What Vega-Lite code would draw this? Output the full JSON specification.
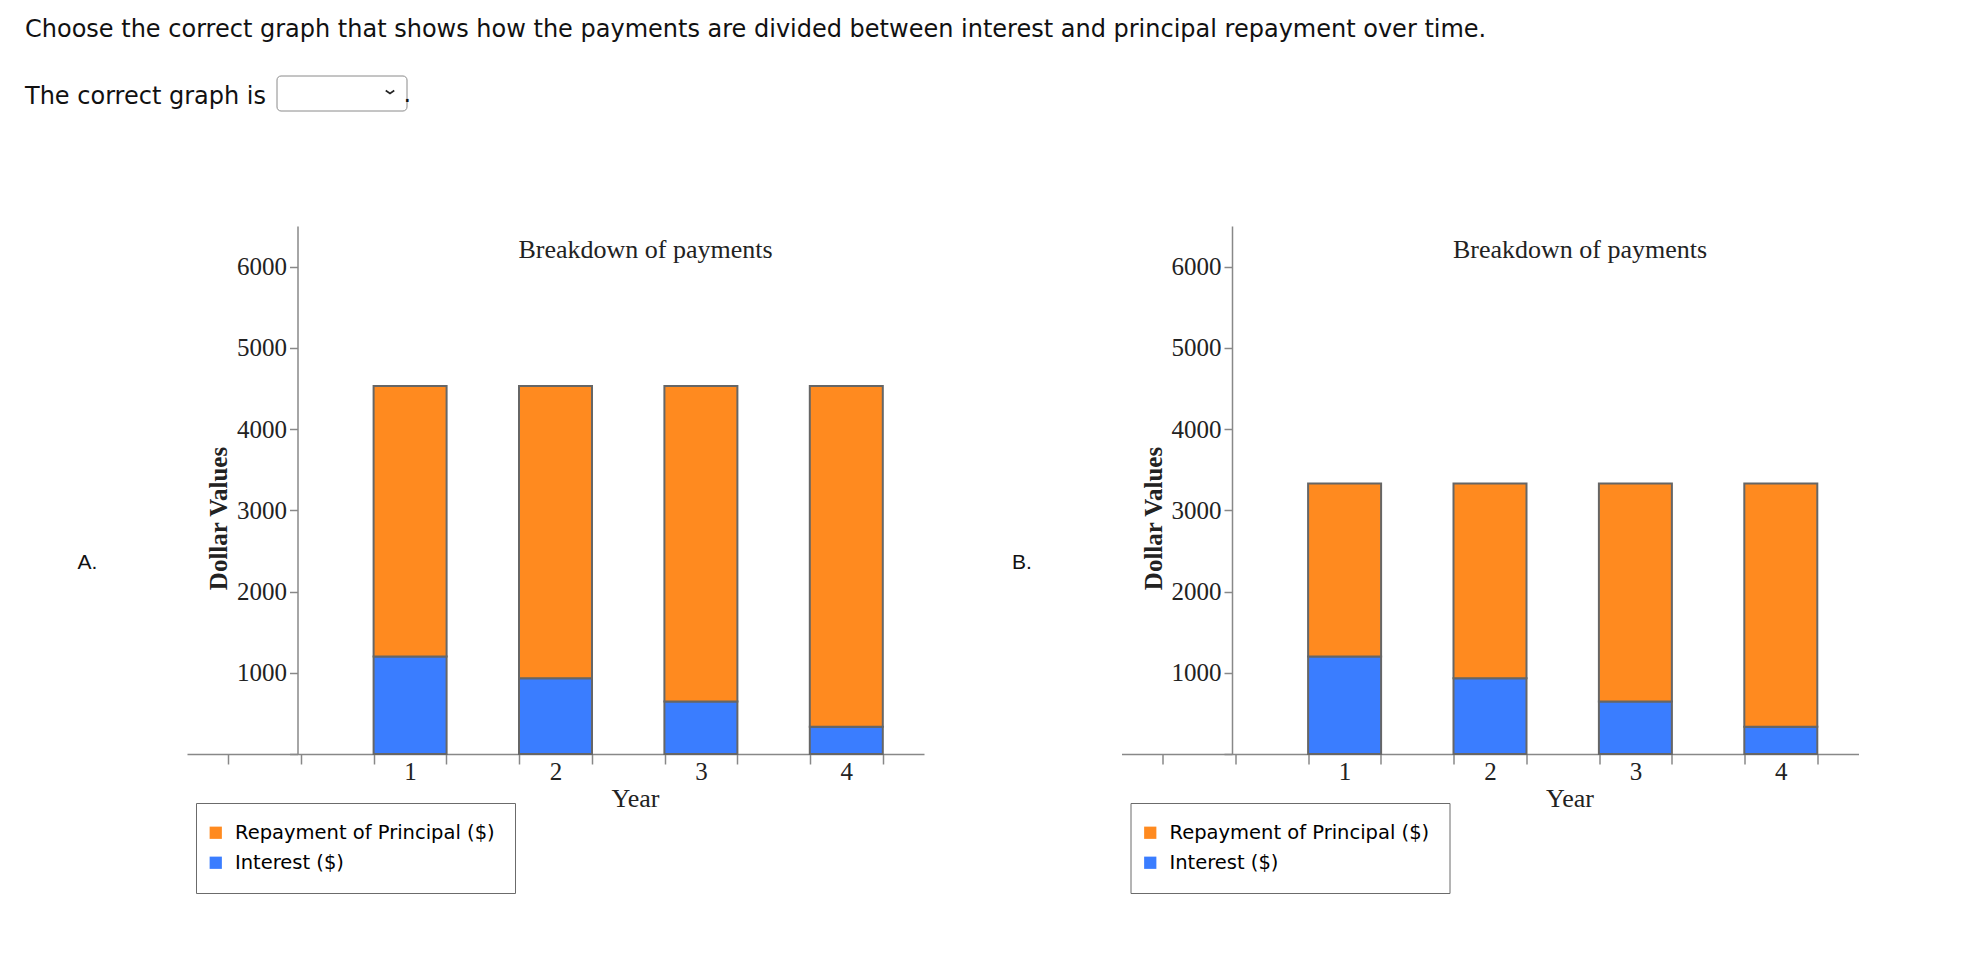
{
  "$schema": "https://vega.github.io/schema/vega-lite/v6.json",
  "background": "white",
  "padding": {"left": 25, "top": 18, "right": 5, "bottom": 5},
  "title": {
    "text": "Choose the correct graph that shows how the payments are divided between interest and principal repayment over time.",
    "subtitle": "The correct graph is",
    "anchor": "start",
    "frame": "group",
    "dx": -162,
    "font": "DejaVu Sans",
    "fontSize": 24,
    "fontWeight": "normal",
    "color": "#111",
    "subtitleFont": "DejaVu Sans",
    "subtitleFontSize": 24,
    "subtitleColor": "#111",
    "subtitlePadding": 43,
    "offset": -34
  },
  "datasets": {
    "a": [
      {"year": 1, "component": "Interest ($)", "amount": 1200},
      {"year": 1, "component": "Repayment of Principal ($)", "amount": 3329},
      {"year": 2, "component": "Interest ($)", "amount": 934},
      {"year": 2, "component": "Repayment of Principal ($)", "amount": 3595},
      {"year": 3, "component": "Interest ($)", "amount": 646},
      {"year": 3, "component": "Repayment of Principal ($)", "amount": 3883},
      {"year": 4, "component": "Interest ($)", "amount": 335},
      {"year": 4, "component": "Repayment of Principal ($)", "amount": 4194}
    ],
    "b": [
      {"year": 1, "component": "Interest ($)", "amount": 1200},
      {"year": 1, "component": "Repayment of Principal ($)", "amount": 2129},
      {"year": 2, "component": "Interest ($)", "amount": 934},
      {"year": 2, "component": "Repayment of Principal ($)", "amount": 2395},
      {"year": 3, "component": "Interest ($)", "amount": 646},
      {"year": 3, "component": "Repayment of Principal ($)", "amount": 2683},
      {"year": 4, "component": "Interest ($)", "amount": 335},
      {"year": 4, "component": "Repayment of Principal ($)", "amount": 2994}
    ]
  },
  "bounds": "flush",
  "spacing": 197.5,
  "hconcat": [
    {
      "data": {"name": "a"},
      "width": 737,
      "height": 528,
      "title": {"text": "Breakdown of payments", "anchor": "middle", "dx": 90, "offset": -37, "font": "Liberation Serif", "fontSize": 26, "fontWeight": "normal", "color": "#222"},
      "layer": [
        {
          "mark": {"type": "bar", "size": 73, "stroke": "#666", "strokeWidth": 2},
          "encoding": {
            "x": {"field": "year", "type": "quantitative", "scale": {"domain": [-0.5, 4.5], "nice": false, "zero": false},
              "axis": {"values": [-0.25, 0.25, 0.75, 1, 1.25, 1.75, 2, 2.25, 2.75, 3, 3.25, 3.75, 4, 4.25],
                "labelExpr": "datum.value % 1 === 0 ? '' + datum.value : ''",
                "tickColor": {"condition": {"test": "datum.value % 1 === 0", "value": "transparent"}, "value": "#888"},
                "tickSize": 10, "tickWidth": 1.5, "domainColor": "#888", "domainWidth": 1.5,
                "labelFont": "Liberation Serif", "labelFontSize": 25, "labelColor": "#222", "labelPadding": -4.5,
                "labelFlush": false, "labelOverlap": false, "grid": false,
                "title": "Year", "titleFont": "Liberation Serif", "titleFontSize": 26, "titleFontWeight": "normal", "titleColor": "#222",
                "titleX": 448, "titleY": 44, "titleAlign": "center", "titleBaseline": "middle"}},
            "y": {"field": "amount", "type": "quantitative", "stack": "zero", "scale": {"domain": [0, 6500], "nice": false},
              "axis": {"values": [0, 1000, 2000, 3000, 4000, 5000, 6000], "format": "d",
                "labelExpr": "datum.value === 0 ? '' : datum.label",
                "offset": -110.5, "tickSize": 8, "tickWidth": 1.5, "tickColor": "#888", "domainColor": "#888", "domainWidth": 1.5,
                "labelFont": "Liberation Serif", "labelFontSize": 25, "labelColor": "#222", "labelPadding": 3, "grid": false,
                "title": "Dollar Values", "titleFont": "Liberation Serif", "titleFontSize": 25, "titleFontWeight": "bold", "titleColor": "#222",
                "titleX": -79, "titleY": 292, "titleAlign": "center", "titleBaseline": "middle", "titleAngle": 270}},
            "color": {"field": "component", "type": "nominal",
              "scale": {"domain": ["Repayment of Principal ($)", "Interest ($)"], "range": ["#ff8a1f", "#3a7dff"]},
              "legend": {"orient": "none", "legendX": 9, "legendY": 577, "title": null,
                "symbolType": "square", "symbolSize": 150, "symbolStrokeWidth": 0, "symbolOffset": -10,
                "labelFont": "DejaVu Sans", "labelFontSize": 19.5, "labelOffset": 9.5, "rowPadding": 9, "labelLimit": 600,
                "padding": 20, "strokeColor": "#6b6b6b",
                "encode": {"legend": {"update": {"strokeWidth": {"value": 2}}},
                  "labels": {"update": {"fill": {"signal": "datum.value === 'Interest ($)' ? '#3a7dff' : '#ff8a1f'"}}}}}},
            "order": {"field": "component", "sort": "ascending"}
          }
        },
        {
          "mark": {"type": "point", "opacity": 0},
          "encoding": {
            "x": {"field": "year", "type": "quantitative", "axis": null},
            "y": {"field": "amount", "type": "quantitative", "aggregate": "sum",
              "axis": {"orient": "left", "domain": false, "ticks": false, "labels": false, "grid": false,
                "title": "A.", "titleFont": "Liberation Sans", "titleFontSize": 21, "titleFontWeight": "normal", "titleColor": "#111",
                "titleAngle": 0, "titleX": -100, "titleY": 336, "titleAlign": "center", "titleBaseline": "middle"}},
            "shape": {"datum": "select", "scale": {"range": ["M-0.85,-0.3L0,0.3L0.85,-0.3"]},
              "legend": {"orient": "none", "legendX": 89.5, "legendY": -150.5,
                "title": "MMMMMM", "titleOrient": "left", "titleColor": "transparent", "titleFont": "DejaVu Sans", "titleFontSize": 16.1, "titlePadding": 0,
                "symbolSize": 100, "symbolStrokeColor": "#222", "symbolFillColor": "transparent", "symbolStrokeWidth": 1.6, "symbolOpacity": 1,
                "labelExpr": "'\u00a0'", "labelFontSize": 15, "labelOffset": 0,
                "padding": 9, "strokeColor": "#8a8a8a", "cornerRadius": 4}},
            "strokeDash": {"datum": ".", "type": "nominal",
              "legend": {"orient": "none", "legendX": 192.5, "legendY": -136.5, "title": null,
                "symbolSize": 0, "symbolOpacity": 0, "symbolStrokeWidth": 0,
                "labelFont": "DejaVu Sans", "labelFontSize": 24, "labelColor": "#111", "labelOffset": 0, "labelBaseline": "alphabetic",
                "padding": 0}}
          }
        }
      ],
      "resolve": {"axis": {"x": "independent", "y": "independent"}}
    },
    {
      "data": {"name": "b"},
      "width": 737,
      "height": 528,
      "title": {"text": "Breakdown of payments", "anchor": "middle", "dx": 90, "offset": -37, "font": "Liberation Serif", "fontSize": 26, "fontWeight": "normal", "color": "#222"},
      "layer": [
        {
          "mark": {"type": "bar", "size": 73, "stroke": "#666", "strokeWidth": 2},
          "encoding": {
            "x": {"field": "year", "type": "quantitative", "scale": {"domain": [-0.5, 4.5], "nice": false, "zero": false},
              "axis": {"values": [-0.25, 0.25, 0.75, 1, 1.25, 1.75, 2, 2.25, 2.75, 3, 3.25, 3.75, 4, 4.25],
                "labelExpr": "datum.value % 1 === 0 ? '' + datum.value : ''",
                "tickColor": {"condition": {"test": "datum.value % 1 === 0", "value": "transparent"}, "value": "#888"},
                "tickSize": 10, "tickWidth": 1.5, "domainColor": "#888", "domainWidth": 1.5,
                "labelFont": "Liberation Serif", "labelFontSize": 25, "labelColor": "#222", "labelPadding": -4.5,
                "labelFlush": false, "labelOverlap": false, "grid": false,
                "title": "Year", "titleFont": "Liberation Serif", "titleFontSize": 26, "titleFontWeight": "normal", "titleColor": "#222",
                "titleX": 448, "titleY": 44, "titleAlign": "center", "titleBaseline": "middle"}},
            "y": {"field": "amount", "type": "quantitative", "stack": "zero", "scale": {"domain": [0, 6500], "nice": false},
              "axis": {"values": [0, 1000, 2000, 3000, 4000, 5000, 6000], "format": "d",
                "labelExpr": "datum.value === 0 ? '' : datum.label",
                "offset": -110.5, "tickSize": 8, "tickWidth": 1.5, "tickColor": "#888", "domainColor": "#888", "domainWidth": 1.5,
                "labelFont": "Liberation Serif", "labelFontSize": 25, "labelColor": "#222", "labelPadding": 3, "grid": false,
                "title": "Dollar Values", "titleFont": "Liberation Serif", "titleFontSize": 25, "titleFontWeight": "bold", "titleColor": "#222",
                "titleX": -79, "titleY": 292, "titleAlign": "center", "titleBaseline": "middle", "titleAngle": 270}},
            "color": {"field": "component", "type": "nominal",
              "scale": {"domain": ["Repayment of Principal ($)", "Interest ($)"], "range": ["#ff8a1f", "#3a7dff"]},
              "legend": {"orient": "none", "legendX": 9, "legendY": 577, "title": null,
                "symbolType": "square", "symbolSize": 150, "symbolStrokeWidth": 0, "symbolOffset": -10,
                "labelFont": "DejaVu Sans", "labelFontSize": 19.5, "labelOffset": 9.5, "rowPadding": 9, "labelLimit": 600,
                "padding": 20, "strokeColor": "#6b6b6b",
                "encode": {"legend": {"update": {"strokeWidth": {"value": 2}}},
                  "labels": {"update": {"fill": {"signal": "datum.value === 'Interest ($)' ? '#3a7dff' : '#ff8a1f'"}}}}}},
            "order": {"field": "component", "sort": "ascending"}
          }
        },
        {
          "mark": {"type": "point", "opacity": 0},
          "encoding": {
            "x": {"field": "year", "type": "quantitative", "axis": null},
            "y": {"field": "amount", "type": "quantitative", "aggregate": "sum",
              "axis": {"orient": "left", "domain": false, "ticks": false, "labels": false, "grid": false,
                "title": "B.", "titleFont": "Liberation Sans", "titleFontSize": 21, "titleFontWeight": "normal", "titleColor": "#111",
                "titleAngle": 0, "titleX": -100, "titleY": 336, "titleAlign": "center", "titleBaseline": "middle"}}
          }
        }
      ],
      "resolve": {"axis": {"x": "independent", "y": "independent"}}
    }
  ],
  "resolve": {"scale": {"color": "independent"}, "legend": {"color": "independent"}},
  "config": {"view": {"stroke": null}}
}
